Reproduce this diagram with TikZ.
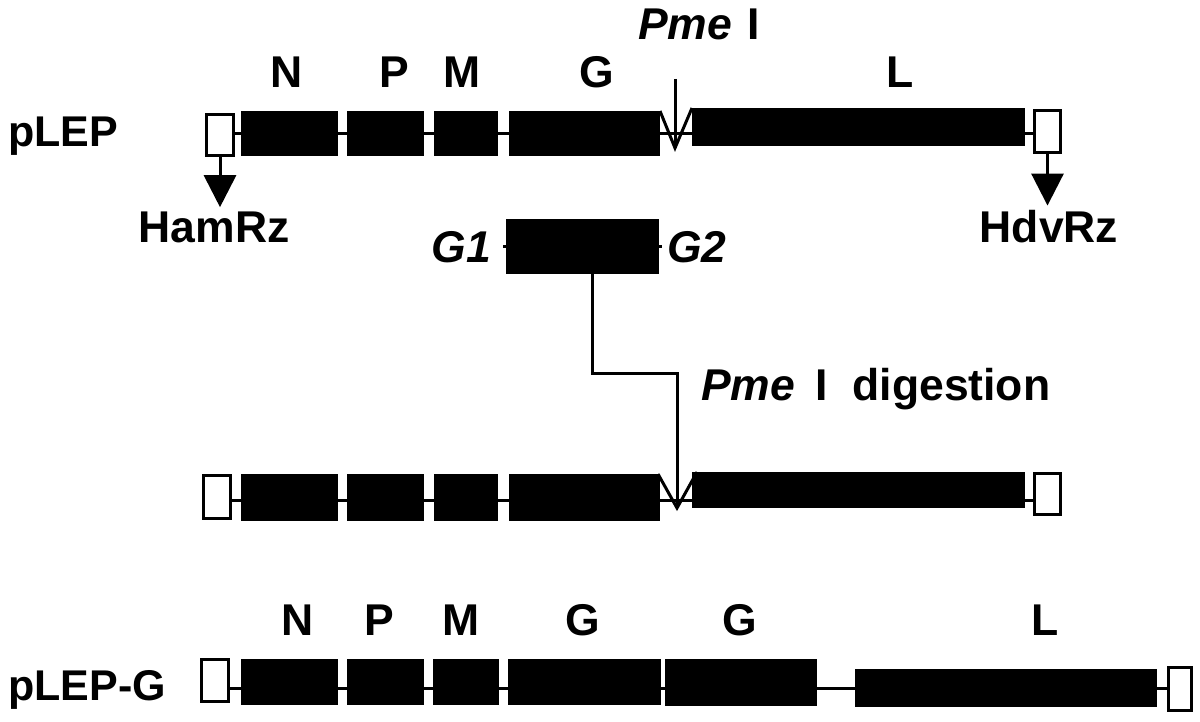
\documentclass[tikz,border=0pt]{standalone}
\usepackage{fontspec}
\setmainfont{Liberation Sans}
\usetikzlibrary{arrows.meta}
\tikzset{
  gene/.style={fill=black, inner sep=0pt, outer sep=0pt, anchor=north west},
  rz/.style={draw=black, fill=white, line width=3pt, inner sep=0pt, outer sep=0pt, anchor=north west},
  dna/.style={line width=3pt},
  rzarrow/.style={line width=3pt, -{Triangle[length=32pt, width=32pt]}},
  lbl/.style={font=\fontsize{44.5}{50}\selectfont\bfseries, inner sep=0pt, anchor=base},
  plasmid/.style={font=\fontsize{43}{50}\selectfont\bfseries, inner sep=0pt, anchor=base west}
}
\begin{document}
\begin{tikzpicture}[x=1pt, y=-1pt]
			%%%%% START %%%%%
			\useasboundingbox (0, 0) rectangle (1200, 722);
			
			% pLEP
			\coordinate (r1) at (0, 134);
			\node[plasmid] (plep) at (8, 147) {pLEP};
			\node[rz, minimum width=27pt, minimum height=41pt] (ham1) at (206.5, 114.5) {};
			\node[gene, minimum width=97pt, minimum height=45pt] (N1) at (241, 111) {};
			\node[gene, minimum width=77pt, minimum height=45pt] (P1) at (347, 111) {};
			\node[gene, minimum width=64pt, minimum height=45pt] (M1) at (434, 111) {};
			\node[gene, minimum width=151pt, minimum height=45pt] (G1) at (509, 111) {};
			\node[gene, minimum width=333pt, minimum height=38pt] (L1) at (692, 108) {};
			\node[rz, minimum width=26pt, minimum height=42pt] (hdv1) at (1034.5, 110.5) {};
			
			\draw[dna] (ham1.east |- r1) -- (N1.west |- r1);
			\draw[dna] (N1.east |- r1) -- (P1.west |- r1);
			\draw[dna] (P1.east |- r1) -- (M1.west |- r1);
			\draw[dna] (M1.east |- r1) -- (G1.west |- r1);
			\draw[dna] (G1.east |- r1) -- (L1.west |- r1);
			\draw[dna] (L1.east |- r1) -- (hdv1.west |- r1);
			
			\node[lbl] (lN1) at (287, 88) {N};
			\node[lbl] (lP1) at (394, 88) {P};
			\node[lbl] (lM1) at (462, 88) {M};
			\node[lbl] (lG1) at (597, 88) {G};
			\node[lbl] (lL1) at (900, 88) {L};
			
			\node[lbl, anchor=base west] (pme) at (638, 40) {\itshape Pme\upshape\hspace{15pt}I};
			\coordinate (cut1) at (675, 79);
			\coordinate (v1tip) at (675, 148);
			\draw[dna] (cut1) -- (v1tip);
			\draw[dna] (G1.north east) -- (v1tip) -- (L1.north west);
			
			\node[lbl] (hamrz) at (214, 243) {HamRz};
			\node[lbl] (hdvrz) at (1049, 243) {HdvRz};
			\draw[rzarrow] (ham1.south) -- ([yshift=5pt]ham1.south |- hamrz.north);
			\draw[rzarrow] (hdv1.south) -- ([yshift=5pt]hdv1.south |- hdvrz.north);
			
			% G fragment
			\node[gene, minimum width=153pt, minimum height=55pt] (frag) at (506, 219) {};
			\draw[dna] ([xshift=-3pt]frag.west) -- ([xshift=3pt]frag.east);
			\node[lbl, anchor=base east] (g1) at (491, 262) {\itshape G1};
			\node[lbl, anchor=base west] (g2) at (667, 262) {\itshape G2};
			
			% digested
			\coordinate (r2) at (0, 500);
			\node[rz, minimum width=27pt, minimum height=43pt] (ham2) at (203.5, 475.5) {};
			\node[gene, minimum width=97pt, minimum height=47pt] (N2) at (241, 474) {};
			\node[gene, minimum width=77pt, minimum height=47pt] (P2) at (347, 474) {};
			\node[gene, minimum width=64pt, minimum height=47pt] (M2) at (434, 474) {};
			\node[gene, minimum width=151pt, minimum height=47pt] (G2) at (509, 474) {};
			\node[gene, minimum width=333pt, minimum height=36pt] (L2) at (692, 472) {};
			\node[rz, minimum width=26pt, minimum height=41pt] (hdv2) at (1034.5, 473.5) {};
			
			\draw[dna] (ham2.east |- r2) -- (N2.west |- r2);
			\draw[dna] (N2.east |- r2) -- (P2.west |- r2);
			\draw[dna] (P2.east |- r2) -- (M2.west |- r2);
			\draw[dna] (M2.east |- r2) -- (G2.west |- r2);
			\draw[dna] (G2.east |- r2) -- (L2.west |- r2);
			\draw[dna] (L2.east |- r2) -- (hdv2.west |- r2);
			
			\coordinate (v2tip) at (677, 508);
			\draw[dna] ([xshift=-2pt]G2.north east) -- (v2tip) -- ([xshift=5pt]L2.north west);
			\draw[dna] ([xshift=9.5pt]frag.south) |- ([yshift=135pt]v2tip) -- (v2tip);
			\node[lbl, anchor=base west] (dig) at (701, 400) {\itshape Pme\upshape\hspace{20pt}I\hspace{25pt}digestion};
			
			% pLEP-G
			\coordinate (r3) at (0, 688);
			\node[plasmid] (plepg) at (8, 700) {pLEP-G};
			\node[rz, minimum width=27pt, minimum height=42pt] (ham3) at (201.5, 659.5) {};
			\node[gene, minimum width=97pt, minimum height=46pt] (N3) at (241, 659) {};
			\node[gene, minimum width=77pt, minimum height=46pt] (P3) at (347, 659) {};
			\node[gene, minimum width=66pt, minimum height=46pt] (M3) at (433, 659) {};
			\node[gene, minimum width=153pt, minimum height=46pt] (Ga3) at (508, 659) {};
			\node[gene, minimum width=152pt, minimum height=47pt] (Gb3) at (665, 659) {};
			\node[gene, minimum width=302pt, minimum height=38pt] (L3) at (855, 669) {};
			\node[rz, minimum width=23pt, minimum height=43pt] (hdv3) at (1168.5, 667.5) {};
			
			\draw[dna] (ham3.east |- r3) -- (N3.west |- r3);
			\draw[dna] (N3.east |- r3) -- (P3.west |- r3);
			\draw[dna] (P3.east |- r3) -- (M3.west |- r3);
			\draw[dna] (M3.east |- r3) -- (Ga3.west |- r3);
			\draw[dna] (Ga3.east |- r3) -- (Gb3.west |- r3);
			\draw[dna] (Gb3.east |- r3) -- (L3.west |- r3);
			\draw[dna] (L3.east |- r3) -- (hdv3.west |- r3);
			
			\node[lbl] (lN3) at (298, 635) {N};
			\node[lbl] (lP3) at (379, 635) {P};
			\node[lbl] (lM3) at (461, 635) {M};
			\node[lbl] (lGa3) at (583, 635) {G};
			\node[lbl] (lGb3) at (740, 635) {G};
			\node[lbl] (lL3) at (1045, 635) {L};
			
			%%%%% END %%%%%
		\end{tikzpicture}
\end{document}
